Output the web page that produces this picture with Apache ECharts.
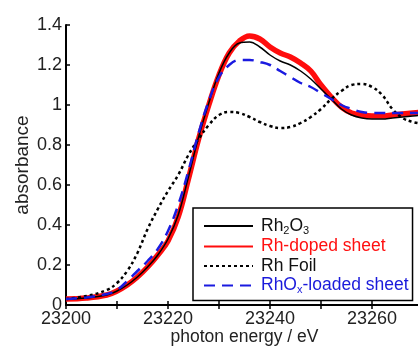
<!DOCTYPE html>
<html>
<head>
<meta charset="utf-8">
<script src="https://cdn.jsdelivr.net/npm/echarts@6/dist/echarts.min.js"></script>
<style>
  html, body { margin: 0; padding: 0; background: #fff; }
  #chart { width: 418px; height: 348px; }
</style>
</head>
<body>
<div id="chart"></div>
<script>
// photon energy (eV)
var energy = [23200, 23204, 23208, 23210, 23212, 23214, 23216, 23218, 23220, 23222,
  23224, 23226, 23228, 23230, 23232, 23234, 23236, 23238, 23240, 23242,
  23244, 23246, 23248, 23250, 23252, 23254, 23256, 23258, 23260, 23262,
  23264, 23266, 23268, 23270];

var rh2o3 = [0.03, 0.035, 0.05, 0.07, 0.10, 0.14, 0.19, 0.25, 0.33, 0.45,
  0.64, 0.84, 1.01, 1.16, 1.26, 1.31, 1.315, 1.29, 1.25, 1.22,
  1.20, 1.17, 1.13, 1.08, 1.03, 0.98, 0.95, 0.935, 0.93, 0.93,
  0.935, 0.94, 0.945, 0.95];

var rhDoped = [0.03, 0.035, 0.05, 0.07, 0.10, 0.14, 0.19, 0.25, 0.32, 0.44,
  0.63, 0.83, 1.00, 1.15, 1.26, 1.32, 1.345, 1.33, 1.29, 1.26,
  1.24, 1.21, 1.17, 1.10, 1.04, 0.99, 0.96, 0.95, 0.945, 0.945,
  0.95, 0.955, 0.96, 0.965];

var rhFoil = [0.03, 0.045, 0.075, 0.11, 0.17, 0.26, 0.38, 0.48, 0.57, 0.65,
  0.75, 0.83, 0.90, 0.95, 0.965, 0.96, 0.94, 0.915, 0.895, 0.885,
  0.89, 0.91, 0.94, 0.98, 1.03, 1.07, 1.10, 1.105, 1.09, 1.05,
  0.98, 0.935, 0.915, 0.905];

var rhOx = [0.03, 0.038, 0.055, 0.075, 0.12, 0.17, 0.22, 0.28, 0.37, 0.50,
  0.67, 0.86, 1.02, 1.14, 1.20, 1.225, 1.225, 1.215, 1.20, 1.17,
  1.14, 1.11, 1.09, 1.06, 1.03, 1.00, 0.98, 0.965, 0.96, 0.96,
  0.96, 0.96, 0.96, 0.96];

function pairs(ys) {
  return energy.map(function (e, i) { return [e, ys[i]]; });
}

var chart = echarts.init(document.getElementById('chart'));
var font = 'Liberation Sans, Arial, sans-serif';

var option = {
  animation: false,
  grid: { left: 66, top: 25, width: 357, height: 280, outerBoundsMode: 'none', containLabel: false },
  legend: {
    orient: 'vertical',
    left: 193,
    top: 208,
    padding: [9, 4, 5, 10],
    itemGap: 1.5,
    itemWidth: 49,
    itemHeight: 14,
    borderColor: '#000',
    borderWidth: 1.5,
    itemStyle: { opacity: 0 },
    textStyle: {
      fontFamily: font,
      fontSize: 17.5,
      lineHeight: 14,
      padding: [0, 0, 0, 3],
      rich: {
        a: { fontFamily: font, fontSize: 17.5, lineHeight: 14 },
        s: { fontFamily: font, fontSize: 11, lineHeight: 14, verticalAlign: 'bottom', padding: [0, 0, -3, 0] }
      }
    },
    formatter: function (name) {
      if (name === 'Rh2O3') return '{a|Rh}{s|2}{a|O}{s|3}';
      if (name === 'RhOx-loaded sheet') return '{a|RhO}{s|x}{a|-loaded sheet}';
      return '{a|' + name + '}';
    },
    data: [
      { name: 'Rh2O3', textStyle: { color: '#111' } },
      { name: 'Rh-doped sheet', textStyle: { color: '#ff1010' } },
      { name: 'Rh Foil', textStyle: { color: '#111' } },
      { name: 'RhOx-loaded sheet', textStyle: { color: '#1a1adb' } }
    ]
  },
  xAxis: [{
    type: 'value',
    min: 23200,
    max: 23270,
    interval: 10,
    axisLine: { onZero: false, lineStyle: { color: '#000', width: 2 } },
    axisTick: { inside: true, length: 4, lineStyle: { color: '#000', width: 1.5 } },
    splitLine: { show: false },
    axisLabel: {
      color: '#222',
      fontFamily: font,
      fontSize: 18,
      margin: 5,
      formatter: function (v) { return v % 20 === 0 ? String(v) : ''; }
    },
    name: 'photon energy / eV',
    nameLocation: 'middle',
    nameGap: 23,
    nameMoveOverlap: false,
    nameTextStyle: { color: '#222', fontFamily: font, fontSize: 17.5 }
  }, {
    type: 'value',
    position: 'top',
    min: 23200,
    max: 23270,
    interval: 10,
    axisLine: { lineStyle: { color: '#000', width: 2 } },
    axisTick: { inside: true, length: 4, lineStyle: { color: '#000', width: 1.5 } },
    axisLabel: { show: false },
    splitLine: { show: false }
  }],
  yAxis: {
    type: 'value',
    min: 0,
    max: 1.4,
    interval: 0.2,
    axisLine: { show: true, lineStyle: { color: '#000', width: 2 } },
    axisTick: { show: true, inside: true, length: 4, lineStyle: { color: '#000', width: 1.5 } },
    splitLine: { show: false },
    axisLabel: { color: '#222', fontFamily: font, fontSize: 18, margin: 4 },
    name: 'absorbance',
    nameLocation: 'middle',
    nameGap: 34,
    nameMoveOverlap: false,
    nameTextStyle: { color: '#222', fontFamily: font, fontSize: 19 }
  },
  series: [
    {
      name: 'Rh-doped sheet', type: 'line', smooth: 0.4, symbol: 'none', z: 2,
      lineStyle: { color: '#ff0d0d', width: 5.5 }, itemStyle: { color: '#ff0d0d' },
      data: pairs(rhDoped)
    },
    {
      name: 'Rh2O3', type: 'line', smooth: 0.4, symbol: 'none', z: 3,
      lineStyle: { color: '#000', width: 1.5 }, itemStyle: { color: '#000' },
      data: pairs(rh2o3)
    },
    {
      name: 'Rh Foil', type: 'line', smooth: 0.4, symbol: 'none', z: 4,
      lineStyle: { color: '#000', width: 2.5, type: [3, 3] }, itemStyle: { color: '#000' },
      data: pairs(rhFoil)
    },
    {
      name: 'RhOx-loaded sheet', type: 'line', smooth: 0.4, symbol: 'none', z: 5,
      lineStyle: { color: '#1a1ae0', width: 2.5, type: [11, 7] }, itemStyle: { color: '#1a1ae0' },
      data: pairs(rhOx)
    }
  ]
};

chart.setOption(option);
</script>
</body>
</html>
